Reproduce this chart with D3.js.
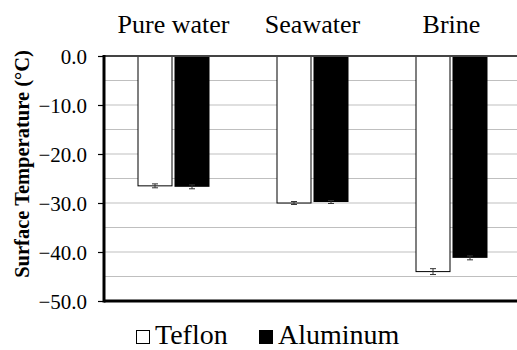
<!DOCTYPE html>
<meta charset="utf-8">
<style>
  body { margin: 0; background: #fff; }
  .grid line { stroke: #bfbfbf; stroke-width: 1.2px; }
</style>
<body>
<script src="https://cdn.jsdelivr.net/npm/d3@7"></script>
<script>

  // data
  var categories = ["Pure water", "Seawater", "Brine"];
  var materials = ["Teflon", "Aluminum"];
  var teflon = [-26.5, -30.0, -44.0];
  var aluminum = [-26.7, -29.8, -41.2];
  var teflonErr = [0.4, 0.3, 0.6];
  var aluminumErr = [0.4, 0.3, 0.4];
  var yTicks = [0, -10, -20, -30, -40, -50];
  var gridTicks = [-5, -15, -25, -35, -45];

  var serif = "'Liberation Serif', 'Times New Roman', serif";
  var width = 517, height = 350;
  var plotL = 104, plotT = 56, plotB = 301, plotR = 521;

  var svg = d3.select("body").append("svg")
      .attr("width", width)
      .attr("height", height)
      .style("display", "block");

  var x = d3.scaleBand().domain(categories).range([plotL, plotR]);
  var y = d3.scaleLinear().domain([-50, 0]).range([plotB, plotT]);
  var barW = 35, gap = 2;

  // minor gridlines at the half steps, plus the majors
  svg.append("g").attr("class", "grid")
    .selectAll("line")
    .data(gridTicks.concat(yTicks.slice(1, 5)))
    .enter().append("line")
      .attr("x1", plotL).attr("x2", width)
      .attr("y1", function(d) { return y(d); })
      .attr("y2", function(d) { return y(d); });

  var rows = categories.map(function(c, i) {
    return [
      {cat: c, m: 0, v: teflon[i], e: teflonErr[i]},
      {cat: c, m: 1, v: aluminum[i], e: aluminumErr[i]}
    ];
  });
  var flat = [].concat.apply([], rows);

  function barX(d) {
    var c = x(d.cat) + x.bandwidth() / 2;
    return d.m === 0 ? c - gap / 2 - barW : c + gap / 2;
  }

  svg.append("g").selectAll("rect")
    .data(flat)
    .enter().append("rect")
      .attr("x", function(d) { return barX(d) + (d.m === 0 ? 0.5 : 0); })
      .attr("y", y(0))
      .attr("width", function(d) { return d.m === 0 ? barW - 1 : barW; })
      .attr("height", function(d) { return y(d.v) - y(0); })
      .attr("fill", function(d) { return d.m === 0 ? "#fff" : "#000"; })
      .attr("stroke", function(d) { return d.m === 0 ? "#000" : "none"; })
      .attr("stroke-width", 1);

  // error bars
  var eb = svg.append("g").attr("stroke", "#333").attr("stroke-width", 1);
  flat.forEach(function(d) {
    var cx = barX(d) + barW / 2;
    eb.append("line").attr("x1", cx).attr("x2", cx)
      .attr("y1", y(d.v - d.e)).attr("y2", y(d.v + d.e));
    [d.v - d.e, d.v + d.e].forEach(function(v) {
      eb.append("line").attr("x1", cx - 3).attr("x2", cx + 3)
        .attr("y1", y(v)).attr("y2", y(v));
    });
  });

  // y axis
  var yAxis = svg.append("g")
      .attr("transform", "translate(" + plotL + ",0)")
      .call(d3.axisLeft(y).tickValues(yTicks).tickFormat(d3.format(".1f")).tickSize(6).tickPadding(11));
  yAxis.select(".domain").remove();
  yAxis.selectAll(".tick line").attr("stroke", "#000").attr("stroke-width", 1.2);
  yAxis.selectAll("text")
    .attr("dy", "0.35em")
    .attr("fill", "#000")
    .style("font-family", serif)
    .style("font-size", "21px");

  // frame: zero line on top, thick left & bottom
  svg.append("line").attr("x1", plotL).attr("x2", width)
    .attr("y1", y(0)).attr("y2", y(0))
    .attr("stroke", "#444").attr("stroke-width", 2);
  svg.append("line").attr("x1", plotL).attr("x2", width)
    .attr("y1", y(-50)).attr("y2", y(-50))
    .attr("stroke", "#000").attr("stroke-width", 3);
  svg.append("line").attr("x1", plotL).attr("x2", plotL)
    .attr("y1", y(0) - 1).attr("y2", y(-50) + 1.5)
    .attr("stroke", "#000").attr("stroke-width", 3);

  // category labels on top
  svg.append("g").selectAll("text")
    .data(categories)
    .enter().append("text")
      .attr("x", function(d) { return x(d) + x.bandwidth() / 2; })
      .attr("y", 33)
      .attr("text-anchor", "middle")
      .style("font-family", serif)
      .style("font-size", "26px")
      .text(function(d) { return d; });

  // y title
  svg.append("text")
    .attr("transform", "translate(29,164) rotate(-90)")
    .attr("text-anchor", "middle")
    .style("font-family", serif)
    .style("font-weight", "bold")
    .style("font-size", "20.5px")
    .text("Surface Temperature (°C)");

  // legend
  var lg = svg.append("g");
  var legX = [136, 259];
  materials.forEach(function(m, i) {
    lg.append("rect")
      .attr("x", legX[i] + 0.5).attr("y", 330.5)
      .attr("width", 13).attr("height", 13)
      .attr("fill", i === 0 ? "#fff" : "#000")
      .attr("stroke", "#000").attr("stroke-width", 1);
    lg.append("text")
      .attr("x", legX[i] + 19).attr("y", 344)
      .style("font-family", serif)
      .style("font-size", "28px")
      .text(m);
  });

</script>
</body>
